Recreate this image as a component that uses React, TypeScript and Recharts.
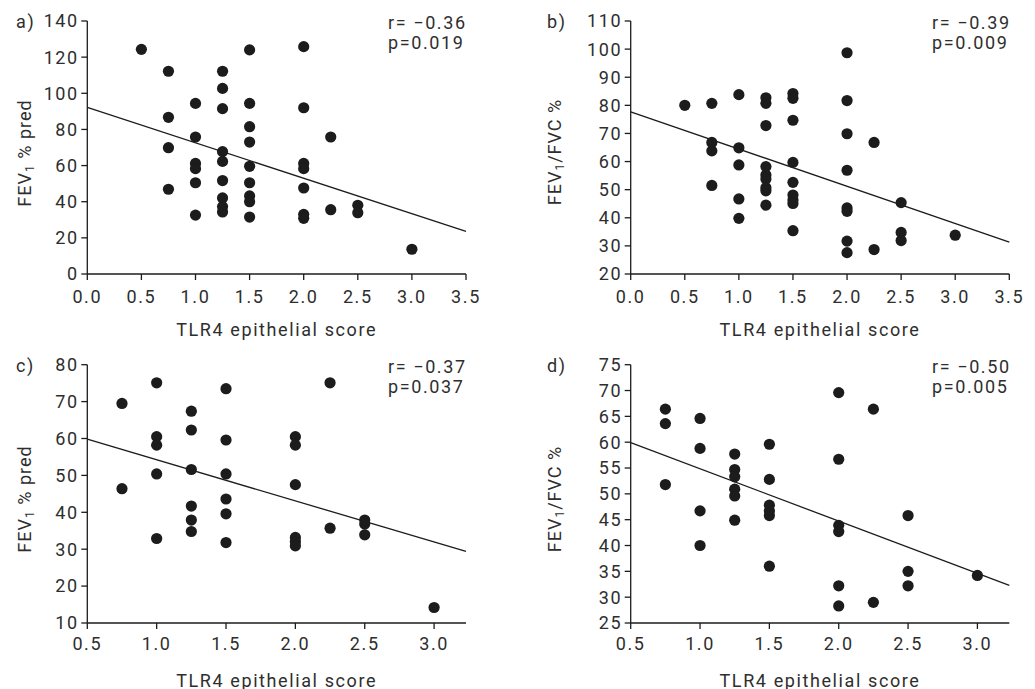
import { ReferenceLine, Scatter, ScatterChart, XAxis, YAxis } from 'recharts'

const ink = '#1c1c1c'
const textInk = '#2e2e2e'
const fontFamily = 'Roboto, "DejaVu Sans", sans-serif'

// TLR4 epithelial score levels (x) and the FEV1 values seen at each level
const scoreLevelsAB = [0.5, 0.75, 1.0, 1.25, 1.5, 2.0, 2.25, 2.5, 3.0]
const scoreLevelsCD = [0.75, 1.0, 1.25, 1.5, 2.0, 2.25, 2.5, 3.0]

const fev1PredA = [
  [124.3],
  [112.2, 86.7, 69.9, 46.9],
  [94.4, 75.8, 61.2, 58.3, 50.5, 32.6],
  [112.2, 102.7, 91.5, 67.7, 62.3, 51.7, 42.1, 37.3, 34.3],
  [124.0, 94.4, 81.5, 73.0, 59.6, 50.5, 43.2, 40.0, 31.5],
  [125.8, 92.0, 61.2, 58.3, 47.6, 33.0, 30.8],
  [75.8, 35.6],
  [38.0, 33.9],
  [13.7],
]

const fev1FvcB = [
  [80.0],
  [80.7, 66.8, 63.8, 51.5],
  [83.8, 64.9, 58.8, 46.7, 39.8],
  [82.7, 80.7, 72.8, 58.2, 55.2, 53.8, 50.7, 49.6, 44.5],
  [84.2, 82.5, 74.7, 59.7, 52.6, 48.1, 46.3, 45.1, 35.4],
  [98.7, 81.7, 69.9, 56.9, 43.5, 42.3, 31.7, 27.6],
  [66.8, 28.7],
  [45.4, 34.8, 31.9],
  [33.8],
]

const fev1PredC = [
  [69.5, 46.4],
  [75.1, 60.5, 58.2, 50.4, 32.9],
  [67.4, 62.3, 51.6, 41.7, 37.9, 34.8],
  [73.5, 59.6, 50.4, 43.6, 39.6, 31.8],
  [60.5, 58.2, 47.5, 33.2, 32.0, 30.9],
  [75.1, 35.7],
  [37.9, 36.8, 33.9],
  [14.2],
]

const fev1FvcD = [
  [66.4, 63.6, 51.8],
  [64.6, 58.8, 46.7, 40.0],
  [57.7, 54.7, 53.3, 50.9, 49.6, 44.9],
  [59.6, 52.8, 47.8, 46.7, 45.8, 36.0],
  [69.6, 56.7, 43.9, 42.7, 32.2, 28.3],
  [66.4, 29.0],
  [45.8, 35.0, 32.2],
  [34.2],
]

// regression line end points
const fitA = [{ x: 0, y: 92.2 }, { x: 3.5, y: 23.6 }]
const fitB = [{ x: 0, y: 77.7 }, { x: 3.5, y: 31.3 }]
const fitC = [{ x: 0.5, y: 59.8 }, { x: 3.23, y: 29.4 }]
const fitD = [{ x: 0.5, y: 59.9 }, { x: 3.23, y: 32.3 }]

const xTicksAB = [0, 0.5, 1.0, 1.5, 2.0, 2.5, 3.0, 3.5]
const xTicksCD = [0.5, 1.0, 1.5, 2.0, 2.5, 3.0]
const yTicksA = [0, 20, 40, 60, 80, 100, 120, 140]
const yTicksB = [20, 30, 40, 50, 60, 70, 80, 90, 100, 110]
const yTicksC = [10, 20, 30, 40, 50, 60, 70, 80]
const yTicksD = [25, 30, 35, 40, 45, 50, 55, 60, 65, 70, 75]

function toPoints(levels: number[], groups: number[][]) {
  return groups.flatMap((values, i) => values.map((y) => ({ x: levels[i], y })))
}

function Dot(props: any) {
  return <circle cx={props.cx} cy={props.cy} r={5.6} fill={ink} />
}

interface PanelProps {
  left: number
  top: number
  width: number
  height: number
  margin: { top: number; right: number; bottom: number; left: number }
  xDomain: [number, number]
  xTicks: number[]
  yDomain: [number, number]
  yTicks: number[]
  points: { x: number; y: number }[]
  fit: { x: number; y: number }[]
  xTickMargin: number
  xLabelOffset: number
}

function Panel({ left, top, width, height, margin, xDomain, xTicks, yDomain, yTicks, points, fit, xTickMargin, xLabelOffset }: PanelProps) {
  return (
    <div style={{ position: 'absolute', left, top, width, height }}>
      <ScatterChart width={width} height={height} margin={margin}>
        <XAxis
          type="number"
          dataKey="x"
          domain={xDomain}
          ticks={xTicks}
          interval={0}
          allowDataOverflow
          tickFormatter={(v: number) => v.toFixed(1)}
          stroke={ink}
          strokeWidth={1.3}
          tickSize={6}
          tickMargin={xTickMargin}
          tick={{ fill: textInk, fontSize: 18 }}
          height={30}
          label={{ value: 'TLR4 epithelial score', position: 'bottom', offset: xLabelOffset, fill: textInk, fontSize: 18 }}
        />
        <YAxis
          type="number"
          dataKey="y"
          domain={yDomain}
          ticks={yTicks}
          interval={0}
          allowDataOverflow
          stroke={ink}
          strokeWidth={1.3}
          tickSize={6}
          tickMargin={2.5}
          tick={{ fill: textInk, fontSize: 18 }}
          width={70}
        />
        <ReferenceLine segment={fit} stroke={ink} strokeWidth={1.3} ifOverflow="visible" />
        <Scatter data={points} shape={Dot} isAnimationActive={false} />
      </ScatterChart>
    </div>
  )
}

function YLabel({ x, y, main, rest }: { x: number; y: number; main: string; rest: string }) {
  return (
    <text x={x} y={y} transform={`rotate(-90 ${x} ${y})`} textAnchor="middle" fill={textInk} fontSize={18} letterSpacing={1}>
      {main}
      <tspan fontSize={12} dy={3}>1</tspan>
      <tspan dy={-3}>{rest}</tspan>
    </text>
  )
}

function Stats({ x, y, r, p }: { x: number; y: number; r: string; p: string }) {
  return (
    <g fill={textInk} fontSize={18}>
      <text x={x} y={y}>{r}</text>
      <text x={x} y={y + 19.5}>{p}</text>
    </g>
  )
}

export default function App() {
  const topMargin = { top: 21, bottom: 41 }
  const bottomMargin = { top: 24.7, bottom: 36 }

  return (
    <div style={{ position: 'absolute', left: 0, top: 0, width: 1035, height: 689, background: '#fff', fontFamily, letterSpacing: '1.6px' }}>
      <Panel
        left={0}
        top={0}
        width={520}
        height={345}
        margin={{ ...topMargin, left: 17.3, right: 54 }}
        xDomain={[0, 3.5]}
        xTicks={xTicksAB}
        yDomain={[0, 140]}
        yTicks={yTicksA}
        points={toPoints(scoreLevelsAB, fev1PredA)}
        fit={fitA}
        xTickMargin={10}
        xLabelOffset={19}
      />
      <Panel
        left={540}
        top={0}
        width={495}
        height={345}
        margin={{ ...topMargin, left: 20.7, right: 25.7 }}
        xDomain={[0, 3.5]}
        xTicks={xTicksAB}
        yDomain={[20, 110]}
        yTicks={yTicksB}
        points={toPoints(scoreLevelsAB, fev1FvcB)}
        fit={fitB}
        xTickMargin={10}
        xLabelOffset={19}
      />
      <Panel
        left={0}
        top={340}
        width={520}
        height={349}
        margin={{ ...bottomMargin, left: 17.3, right: 54 }}
        xDomain={[0.5, 3.23]}
        xTicks={xTicksCD}
        yDomain={[10, 80]}
        yTicks={yTicksC}
        points={toPoints(scoreLevelsCD, fev1PredC)}
        fit={fitC}
        xTickMargin={8}
        xLabelOffset={21}
      />
      <Panel
        left={540}
        top={340}
        width={495}
        height={349}
        margin={{ ...bottomMargin, left: 20.7, right: 25.7 }}
        xDomain={[0.5, 3.23]}
        xTicks={xTicksCD}
        yDomain={[25, 75]}
        yTicks={yTicksD}
        points={toPoints(scoreLevelsCD, fev1FvcD)}
        fit={fitD}
        xTickMargin={8}
        xLabelOffset={21}
      />
      <svg width={1035} height={689} style={{ position: 'absolute', left: 0, top: 0, pointerEvents: 'none' }}>
        <g fill={textInk} fontSize={18}>
          <text x={16} y={28}>a)</text>
          <text x={547} y={28}>b)</text>
          <text x={16} y={372}>c)</text>
          <text x={547} y={372}>d)</text>
        </g>
        <YLabel x={31} y={153} main="FEV" rest=" % pred" />
        <YLabel x={561} y={152} main="FEV" rest="/FVC %" />
        <YLabel x={31} y={499} main="FEV" rest=" % pred" />
        <YLabel x={561} y={499} main="FEV" rest="/FVC %" />
        <Stats x={388} y={29} r="r= −0.36" p="p=0.019" />
        <Stats x={932} y={29} r="r= −0.39" p="p=0.009" />
        <Stats x={388} y={373} r="r= −0.37" p="p=0.037" />
        <Stats x={932} y={373} r="r= −0.50" p="p=0.005" />
      </svg>
    </div>
  )
}
